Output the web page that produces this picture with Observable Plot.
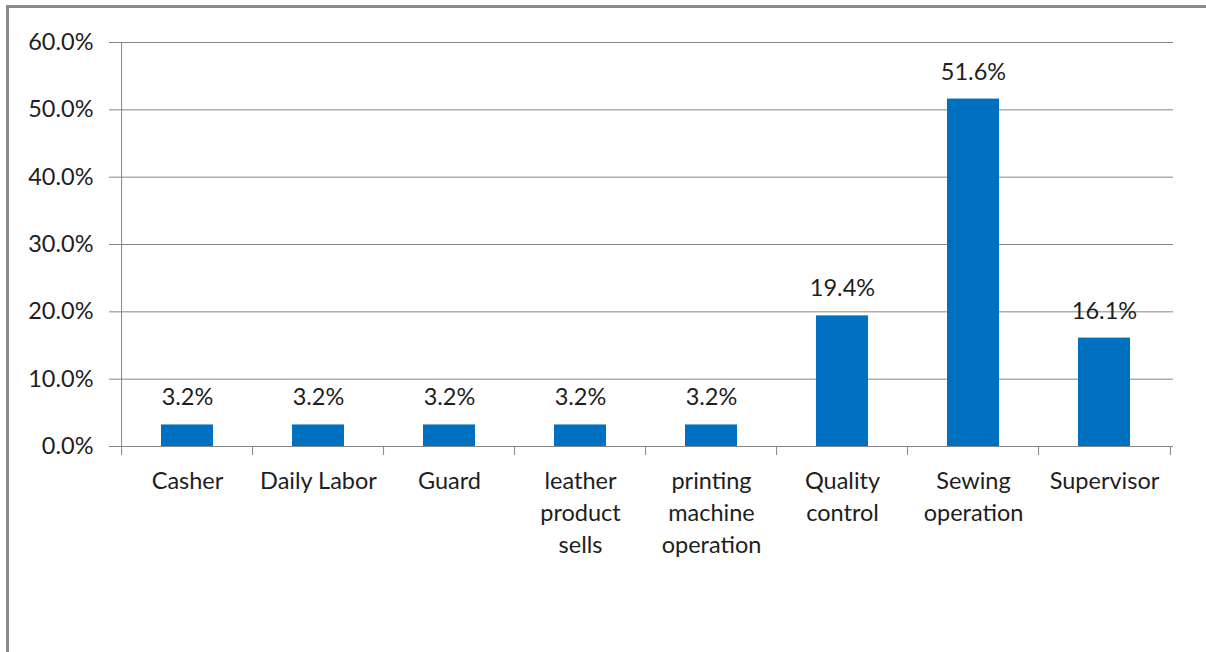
<!DOCTYPE html>
<html>
<head>
<meta charset="utf-8">
<script src="https://cdn.jsdelivr.net/npm/d3@7"></script>
<script src="https://cdn.jsdelivr.net/npm/@observablehq/plot@0.6"></script>
<style>
  html, body { margin: 0; padding: 0; background: #fff; }
  #wrap { position: relative; width: 1206px; height: 652px; overflow: hidden; }
  #frame { position: absolute; left: 6px; top: 5px; right: -10px; bottom: -10px;
           border-left: 3px solid #8a8a8a; border-top: 3px solid #8a8a8a; }
  #chart { position: absolute; left: 0; top: 0; }
  #chart svg text { fill: #1e1e1e; }
</style>
</head>
<body>
<div id="wrap"><div id="frame"></div><div id="chart"></div></div>
<script>
const categories = ["Casher", "Daily Labor", "Guard", "leather\nproduct\nsells", "printing\nmachine\noperation", "Quality\ncontrol", "Sewing\noperation", "Supervisor"];
const values = [3.2, 3.2, 3.2, 3.2, 3.2, 19.4, 51.6, 16.1];
const yTicks = [0, 10, 20, 30, 40, 50, 60];

const data = categories.map((c, i) => ({category: c, value: values[i]}));

const width = 1206, height = 652;
const marginLeft = 118, marginRight = 33, marginTop = 42, marginBottom = 206;
const step = (width - marginLeft - marginRight) / categories.length;
const grey = "#868686";
const font = "Lato, 'Open Sans', sans-serif";
const fs = 23.5;

const plot = Plot.plot({
  width, height, marginLeft, marginRight, marginTop, marginBottom,
  style: {fontFamily: font, fontSize: fs + "px", background: "transparent", color: "#1e1e1e"},
  x: {domain: categories, paddingInner: 0.6, paddingOuter: 0.3, label: null},
  y: {domain: [0, 60], label: null},
  marks: [
    Plot.gridY(yTicks, {stroke: grey, strokeOpacity: 1, strokeWidth: 1}),
    Plot.axisY(yTicks, {tickSize: 9, tickPadding: 16, stroke: grey, strokeOpacity: 1,
      tickFormat: d => d.toFixed(1) + "%", fontSize: fs, label: null}),
    Plot.ruleX([categories[0]], {dx: -step / 2, y1: 0, y2: 60, stroke: grey, strokeWidth: 1}),
    Plot.barY(data, {x: "category", y: "value", fill: "#0070C0"}),
    Plot.ruleY([0], {stroke: grey, strokeWidth: 1}),
    Plot.axisX({tickSize: 9, dx: -step / 2, tickFormat: null, stroke: grey, strokeOpacity: 1, label: null}),
    Plot.axisX([categories[categories.length - 1]], {tickSize: 9, dx: step / 2, tickFormat: null, stroke: grey, strokeOpacity: 1, label: null}),
    Plot.axisX({tickSize: 0, tickPadding: 20, lineHeight: 32 / fs, fontSize: fs, label: null}),
    Plot.text(data, {x: "category", y: "value", text: d => d.value.toFixed(1) + "%", dy: -27, fontSize: fs, fill: "#1e1e1e"})
  ]
});
document.getElementById("chart").append(plot);
</script>
</body>
</html>
